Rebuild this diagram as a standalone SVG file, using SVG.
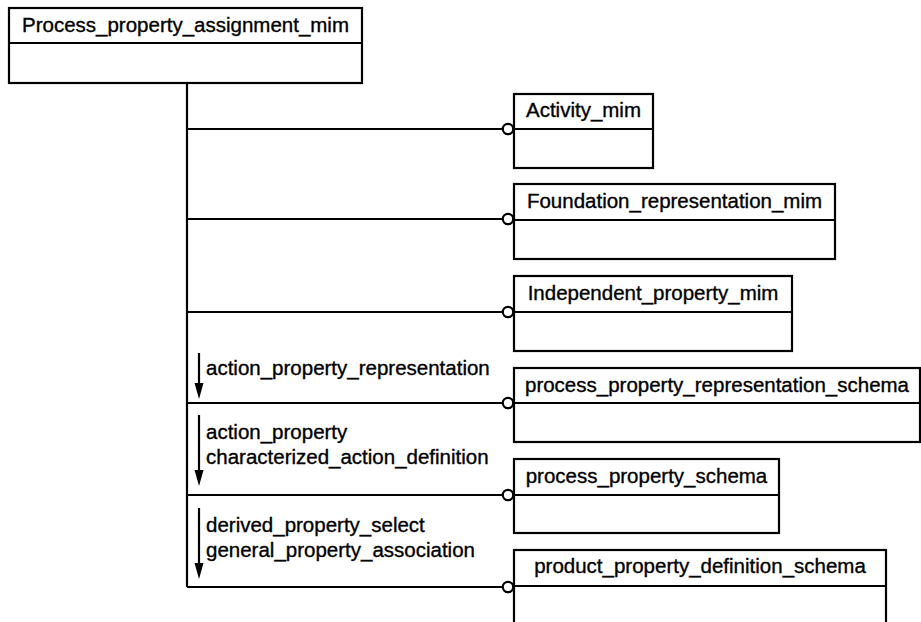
<svg xmlns="http://www.w3.org/2000/svg" width="921" height="622" viewBox="0 0 921 622">
<defs>
<style>
.box{fill:#fff;stroke:#000;stroke-width:2.2}
.ln{stroke:#000;stroke-width:2.2;fill:none}
.t{font-family:"Liberation Sans",Arial,sans-serif;font-size:20.5px;fill:#000;stroke:#000;stroke-width:0.35}
.c{text-anchor:middle}
.circ{fill:#fff;stroke:#000;stroke-width:2.2}
.ah{fill:#000}
</style>
</defs>
<rect width="921" height="622" fill="#fff"/>

<g id="connectors">
<path class="ln" d="M187,83 V587"/>
<path class="ln" d="M187,129 H503"/>
<path class="ln" d="M187,219 H503"/>
<path class="ln" d="M187,312 H503"/>
<path class="ln" d="M187,403 H503"/>
<path class="ln" d="M187,495 H503"/>
<path class="ln" d="M187,587 H503"/>
<circle class="circ" cx="508" cy="129" r="5.2"/>
<circle class="circ" cx="508" cy="219" r="5.2"/>
<circle class="circ" cx="508" cy="312" r="5.2"/>
<circle class="circ" cx="508" cy="403" r="5.2"/>
<circle class="circ" cx="508" cy="495" r="5.2"/>
<circle class="circ" cx="508" cy="587" r="5.2"/>
<path class="ln" d="M199,353 V384"/>
<path class="ah" d="M194.5,383 L203.5,383 L199,399 Z"/>
<path class="ln" d="M199,415 V471"/>
<path class="ah" d="M194.5,470 L203.5,470 L199,486 Z"/>
<path class="ln" d="M199,508 V564"/>
<path class="ah" d="M194.5,563 L203.5,563 L199,579 Z"/>
<text class="t" x="206" y="375">action_property_representation</text>
<text class="t" x="206" y="439">action_property</text>
<text class="t" x="206" y="464">characterized_action_definition</text>
<text class="t" x="206" y="532">derived_property_select</text>
<text class="t" x="206" y="557">general_property_association</text>
</g>

<g id="Process_property_assignment_mim">
<rect class="box" x="9" y="8" width="353" height="75"/>
<path class="ln" d="M9,43 H362"/>
<text class="t c" x="185.5" y="32">Process_property_assignment_mim</text>
</g>

<g id="Activity_mim">
<rect class="box" x="514" y="94" width="139" height="74"/>
<path class="ln" d="M514,129 H653"/>
<text class="t c" x="583.5" y="117">Activity_mim</text>
</g>

<g id="Foundation_representation_mim">
<rect class="box" x="514" y="184" width="321" height="75"/>
<path class="ln" d="M514,220 H835"/>
<text class="t c" x="674.5" y="208">Foundation_representation_mim</text>
</g>

<g id="Independent_property_mim">
<rect class="box" x="514" y="276" width="278" height="75"/>
<path class="ln" d="M514,312 H792"/>
<text class="t c" x="653" y="300">Independent_property_mim</text>
</g>

<g id="process_property_representation_schema">
<rect class="box" x="514" y="368" width="406" height="74"/>
<path class="ln" d="M514,403 H920"/>
<text class="t c" x="717" y="392">process_property_representation_schema</text>
</g>

<g id="process_property_schema">
<rect class="box" x="514" y="459" width="265" height="74"/>
<path class="ln" d="M514,495 H779"/>
<text class="t c" x="646.5" y="483">process_property_schema</text>
</g>

<g id="product_property_definition_schema">
<rect class="box" x="514" y="550" width="372" height="80"/>
<path class="ln" d="M514,586 H886"/>
<text class="t c" x="700" y="573">product_property_definition_schema</text>
</g>
</svg>
